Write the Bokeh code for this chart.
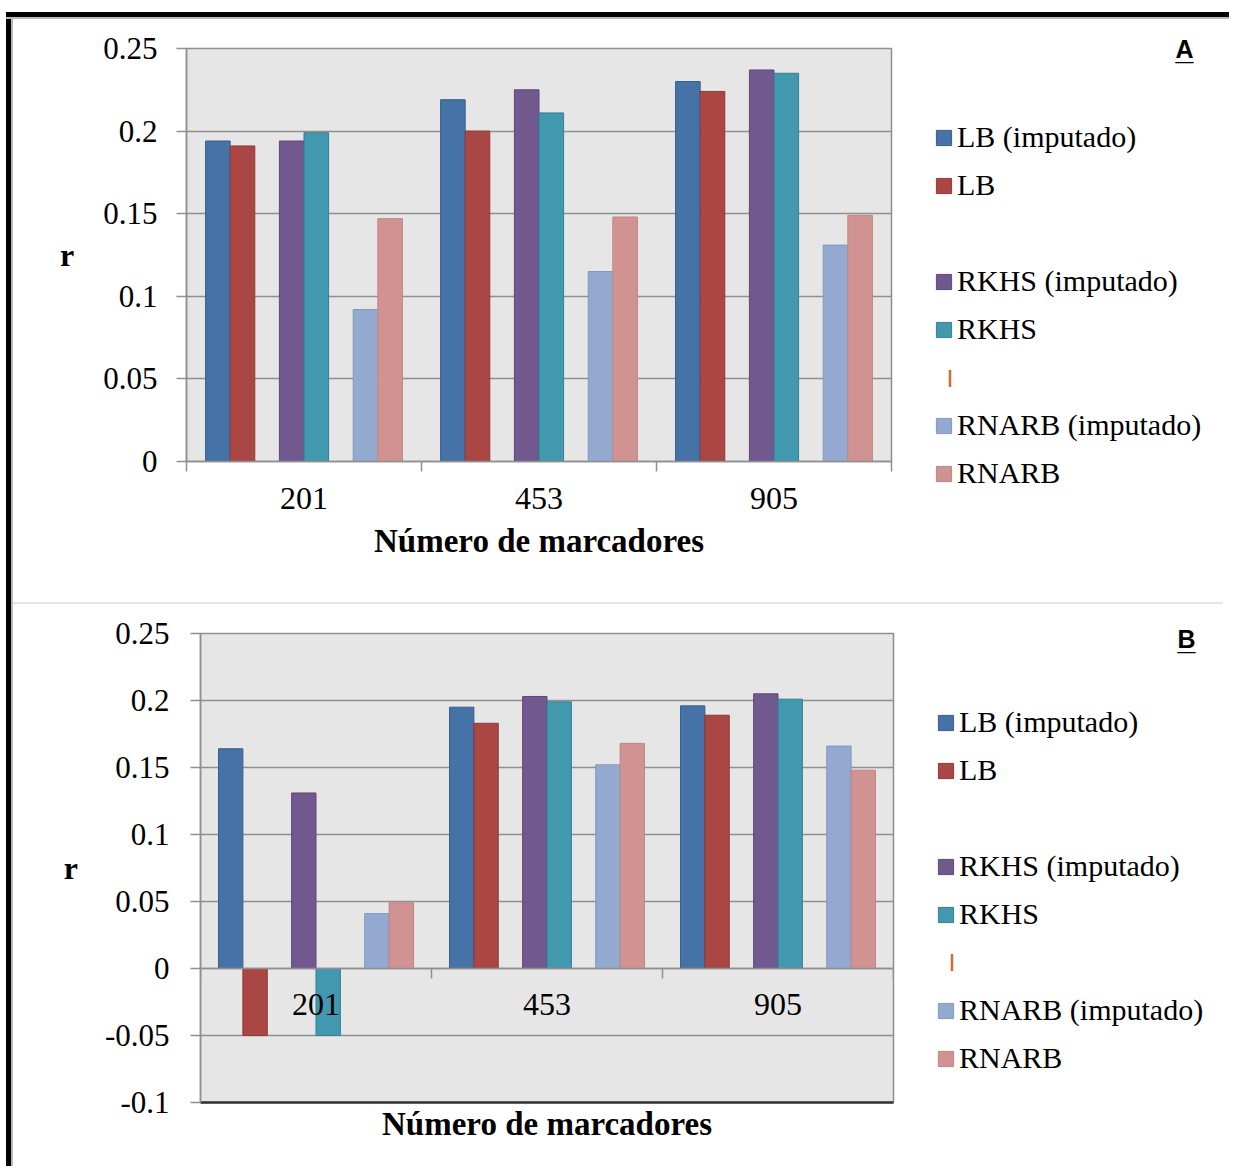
from bokeh.plotting import figure
from bokeh.models import Range1d, FixedTicker, LinearAxis, Legend, LegendItem, Label, Div
from bokeh.layouts import column, row
from bokeh.embed import file_html
from bokeh.resources import INLINE

# ---------------- data ----------------
categories = ["201", "453", "905"]
series_names = ["LB (imputado)", "LB", "", "RKHS (imputado)", "RKHS", "", "RNARB (imputado)", "RNARB"]

a_lb_imp = [0.194, 0.219, 0.230]
a_lb = [0.191, 0.200, 0.224]
a_blank1 = []
a_rkhs_imp = [0.194, 0.225, 0.237]
a_rkhs = [0.199, 0.211, 0.235]
a_blank2 = []
a_rnarb_imp = [0.092, 0.115, 0.131]
a_rnarb = [0.147, 0.148, 0.149]

b_lb_imp = [0.164, 0.195, 0.196]
b_lb = [-0.050, 0.183, 0.189]
b_blank1 = []
b_rkhs_imp = [0.131, 0.203, 0.205]
b_rkhs = [-0.050, 0.199, 0.201]
b_blank2 = []
b_rnarb_imp = [0.041, 0.152, 0.166]
b_rnarb = [0.049, 0.168, 0.148]

a_y_ticks = [0, 0.05, 0.1, 0.15, 0.2, 0.25]
a_y_labels = ["0", "0.05", "0.1", "0.15", "0.2", "0.25"]
b_y_ticks = [-0.1, -0.05, 0, 0.05, 0.1, 0.15, 0.2, 0.25]
b_y_labels = ["-0.1", "-0.05", "0", "0.05", "0.1", "0.15", "0.2", "0.25"]

x_title = "Número de marcadores"
y_title = "r"

# ---------------- styles ----------------
fills = ["#4572A7", "#AA4643", "#89A54E", "#71588F", "#4198AF", "#DB843D", "#93A9CF", "#D19392"]
lines = ["#3A5F8C", "#8E3A38", "#71893F", "#5E4977", "#357F92", "#B86E33", "#8299C0", "#C08584"]
GRID = "#8f8f8f"
SERIF = "Liberation Serif"
LEG_W = 325


def make_panel(series, y_ticks, y_labels, yr, W, H, mbl, mbr, mbt, mbb,
               ystand, rstand, xstand, slot_w, fixed_zero):
    p = figure(width=W, height=H, x_range=Range1d(0, 3), y_range=Range1d(*yr),
               output_backend="svg", toolbar_location=None,
               min_border_left=mbl, min_border_right=mbr,
               min_border_top=mbt, min_border_bottom=mbb)
    p.frame_align = False
    p.background_fill_color = "#e6e6e6"
    p.border_fill_color = "white"
    p.outline_line_color = GRID
    p.outline_line_width = 1.5
    p.xgrid.visible = False
    p.ygrid.ticker = FixedTicker(ticks=y_ticks)
    p.ygrid.grid_line_color = GRID
    p.ygrid.grid_line_width = 1.5

    ya = p.yaxis[0]
    ya.ticker = FixedTicker(ticks=y_ticks)
    ya.major_label_overrides = {t: l for t, l in zip(y_ticks, y_labels)}
    ya.minor_tick_line_color = None
    ya.major_tick_out = 10
    ya.major_tick_in = 0
    ya.major_tick_line_color = GRID
    ya.major_tick_line_width = 1.5
    ya.axis_line_color = GRID
    ya.axis_line_width = 1.5
    ya.major_label_standoff = ystand
    ya.major_label_text_font = SERIF
    ya.major_label_text_font_size = "31px"
    ya.major_label_text_color = "black"
    ya.axis_label = y_title
    ya.axis_label_orientation = "horizontal"
    ya.axis_label_standoff = rstand
    ya.axis_label_text_font = SERIF
    ya.axis_label_text_font_style = "bold"
    ya.axis_label_text_font_size = "32px"
    ya.axis_label_text_color = "black"

    xa = p.xaxis[0]
    xa.ticker = FixedTicker(ticks=[i + 0.5 for i in range(len(categories))],
                            minor_ticks=list(range(len(categories) + 1)))
    xa.major_label_overrides = {i + 0.5: c for i, c in enumerate(categories)}
    xa.major_tick_out = 0
    xa.major_tick_in = 0
    xa.minor_tick_out = 10
    xa.minor_tick_in = 0
    xa.minor_tick_line_color = GRID
    xa.minor_tick_line_width = 1.5
    xa.axis_line_color = GRID
    xa.axis_line_width = 1.5
    xa.major_label_standoff = xstand
    xa.major_label_text_font = SERIF
    xa.major_label_text_font_size = "32px"
    xa.major_label_text_color = "black"

    if fixed_zero:
        xa.fixed_location = 0
        xa2 = LinearAxis(ticker=FixedTicker(ticks=[]), axis_label=x_title)
        xa2.major_tick_out = 0
        xa2.major_tick_in = 0
        xa2.minor_tick_out = 0
        xa2.minor_tick_in = 0
        xa2.major_label_standoff = 0
        xa2.major_label_text_font_size = "0px"
        xa2.axis_line_color = "#333333"
        xa2.axis_line_width = 2.5
        xa2.axis_label_standoff = 3
        xa2.axis_label_text_font = SERIF
        xa2.axis_label_text_font_style = "bold"
        xa2.axis_label_text_font_size = "33px"
        xa2.axis_label_text_color = "black"
        p.add_layout(xa2, "below")
    else:
        xa.axis_label = x_title
        xa.axis_label_standoff = 11
        xa.axis_label_text_font = SERIF
        xa.axis_label_text_font_style = "bold"
        xa.axis_label_text_font_size = "33px"
        xa.axis_label_text_color = "black"

    n = len(series)
    for k, vals in enumerate(series):
        if len(vals) == 0:
            continue
        off = (k - (n - 1) / 2) * slot_w
        xs = [i + 0.5 + off for i in range(len(vals))]
        p.vbar(x=xs, top=vals, bottom=0, width=slot_w,
               fill_color=fills[k], line_color=lines[k], line_width=1)
    return p


def make_legend_panel(H, legend_xy, letter, letter_xy, pipe_xy):
    q = figure(width=LEG_W, height=H, x_range=Range1d(0, LEG_W), y_range=Range1d(0, H),
               output_backend="svg", toolbar_location=None,
               x_axis_type=None, y_axis_type=None, min_border=0)
    q.frame_align = False
    q.outline_line_color = None
    q.background_fill_color = "white"
    q.border_fill_color = "white"
    q.xgrid.visible = False
    q.ygrid.visible = False
    items = []
    for k, name in enumerate(series_names):
        # legend swatches only: one bar placed far outside the visible range
        if name:
            r = q.vbar(x=[-1000], top=[0], width=1, fill_color=fills[k],
                       line_color=lines[k], line_width=1)
            items.append(LegendItem(label=name, renderers=[r]))
        else:
            r = q.vbar(x=[-1000], top=[0], width=1, fill_alpha=0, line_alpha=0)
            items.append(LegendItem(label=" ", renderers=[r]))
    leg = Legend(items=items, location=legend_xy, orientation="vertical",
                 glyph_width=19, glyph_height=19, label_height=34, spacing=14,
                 padding=0, margin=0, label_standoff=4,
                 border_line_alpha=0, background_fill_alpha=0,
                 label_text_font=SERIF, label_text_font_size="30px",
                 label_text_color="black")
    q.add_layout(leg)
    q.add_layout(Label(x=letter_xy[0], y=letter_xy[1],
                       text=letter, text_font="Liberation Sans", text_font_style="bold",
                       text_font_size="25px", text_color="black",
                       text_baseline="alphabetic"))
    q.add_layout(Label(x=letter_xy[0], y=letter_xy[1] + 1,
                       text="_", text_font="Liberation Sans", text_font_style="bold",
                       text_font_size="32px", text_color="black",
                       text_baseline="alphabetic"))
    q.add_layout(Label(x=pipe_xy[0], y=pipe_xy[1],
                       text="|", text_font="Liberation Sans", text_font_style="bold",
                       text_font_size="18px", text_color="#D2691E",
                       text_baseline="alphabetic"))
    return q


series_a = [a_lb_imp, a_lb, a_blank1, a_rkhs_imp, a_rkhs, a_blank2, a_rnarb_imp, a_rnarb]
series_b = [b_lb_imp, b_lb, b_blank1, b_rkhs_imp, b_rkhs, b_blank2, b_rnarb_imp, b_rnarb]

pA = make_panel(series_a, a_y_ticks, a_y_labels, (0, 0.25), 885, 583, 173, 7, 29, 141,
                19, 26, 16, 0.1047, False)
pB = make_panel(series_b, b_y_ticks, b_y_labels, (-0.1, 0.25), 885, 562, 187, 5, 29, 64,
                21, 24, 15, 0.1055, True)
lA = make_legend_panel(583, (36, 112), "A", (277, 554), (49, 226))
lB = make_legend_panel(562, (38, 91), "B", (279, 528), (51, 206))

top_spacer = Div(text="", width=1223, height=12, margin=0)
top_black = Div(text="", width=1223, height=5, margin=0, styles={"background-color": "black"})
top_gray = Div(text="", width=1223, height=2, margin=0, styles={"background-color": "#b8b8b8"})
left_space = Div(text="", width=6, height=1147, margin=0)
left_black = Div(text="", width=5, height=1147, margin=0, styles={"background-color": "black"})
left_gray = Div(text="", width=2, height=1147, margin=0, styles={"background-color": "#b8b8b8"})
sep = Div(text="", width=1210, height=2, margin=0, styles={"background-color": "#e4e4e4"})

top_row = row(Div(text="", width=6, height=7, margin=0),
              column(top_black, top_gray, spacing=0), spacing=0)

p = column(top_spacer, top_row,
           row(left_space, left_black, left_gray,
               column(row(pA, lA, spacing=0), sep, row(pB, lB, spacing=0), spacing=0),
               spacing=0),
           spacing=0)

open("out.html", "w").write(file_html(p, INLINE))
